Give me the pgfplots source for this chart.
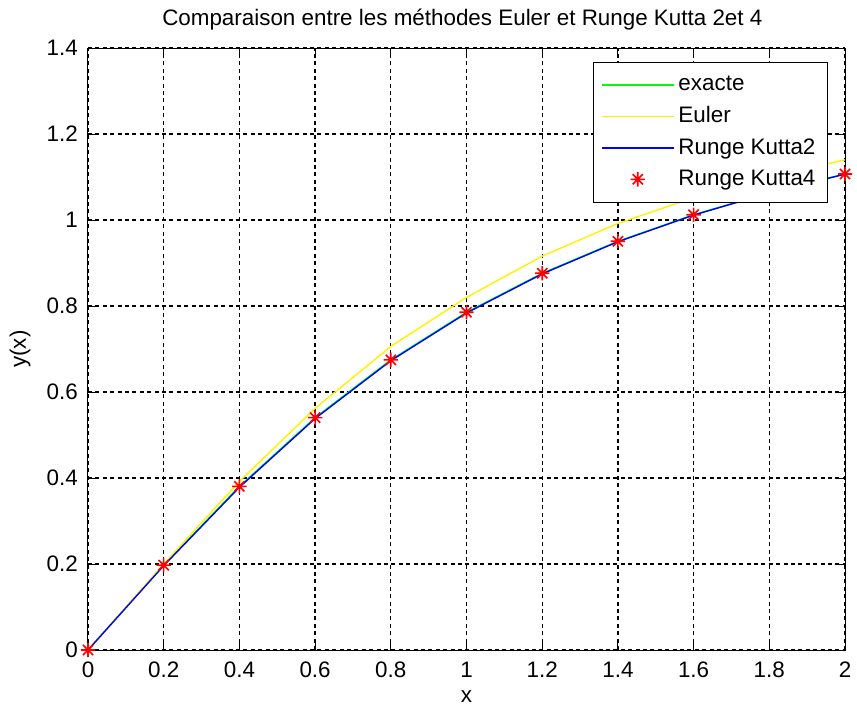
\documentclass[border=0pt]{standalone}
\usepackage{fontspec}
\setmainfont{Liberation Sans}
\usepackage{pgfplots}
\pgfplotsset{compat=1.18}

% MATLAB-like '*' marker: plus and cross together
\pgfdeclareplotmark{mstar}{%
  \pgfpathmoveto{\pgfqpoint{-\pgfplotmarksize}{0pt}}%
  \pgfpathlineto{\pgfqpoint{\pgfplotmarksize}{0pt}}%
  \pgfpathmoveto{\pgfqpoint{0pt}{-\pgfplotmarksize}}%
  \pgfpathlineto{\pgfqpoint{0pt}{\pgfplotmarksize}}%
  \pgfpathmoveto{\pgfqpoint{-0.7071\pgfplotmarksize}{-0.7071\pgfplotmarksize}}%
  \pgfpathlineto{\pgfqpoint{0.7071\pgfplotmarksize}{0.7071\pgfplotmarksize}}%
  \pgfpathmoveto{\pgfqpoint{-0.7071\pgfplotmarksize}{0.7071\pgfplotmarksize}}%
  \pgfpathlineto{\pgfqpoint{0.7071\pgfplotmarksize}{-0.7071\pgfplotmarksize}}%
  \pgfusepathqstroke}

\begin{document}
\begin{tikzpicture}
\path[use as bounding box] (-44pt,-29.5pt) rectangle (384.5pt,325pt);
\begin{axis}[
    scale only axis,
    width=378.5pt, height=301pt,
    xmin=0, xmax=2, ymin=0, ymax=1.4,
    xtick={0,0.2,0.4,0.6,0.8,1,1.2,1.4,1.6,1.8,2},
    ytick={0,0.2,0.4,0.6,0.8,1,1.2,1.4},
    /pgf/number format/assume math mode=true,
    font=\fontsize{11.2}{13.4}\selectfont,
    axis line style={black, line width=0.5pt},
    tick style={black, line width=0.5pt},
    tick align=inside,
    major tick length=4pt,
    grid=major,
    grid style={black, line width=0.6pt, dash pattern=on 2pt off 1.7pt},
    xticklabel style={yshift=-2.4pt},
    yticklabel style={xshift=-1.6pt},
    xlabel={x},
    ylabel={y(x)},
    xlabel style={at={(axis description cs:0.5,-0.0781)}, anchor=center},
    ylabel style={at={(axis description cs:-0.0898,0.5)}, anchor=center},
    title={Comparaison entre les méthodes Euler et Runge Kutta 2et 4},
    title style={at={(axis description cs:0.4945,1.0266)}, anchor=center},
    clip=false,
    legend style={at={(0.9775,0.977)}, anchor=north east, draw=black,
        line width=0.5pt, fill=white, row sep=2.4pt,
        inner xsep=4pt, inner ysep=5pt},
    legend cell align=left,
    legend image code/.code={\draw[mark repeat=2,mark phase=2,#1]
        plot coordinates {(0pt,0pt)(18pt,0pt)(36pt,0pt)};},
]
% exacte
\addplot[green, line width=0.7pt] coordinates {
    (0,0)(0.2,0.1974)(0.4,0.3805)(0.6,0.5404)(0.8,0.6747)(1.0,0.7854)
    (1.2,0.8761)(1.4,0.9505)(1.6,1.0122)(1.8,1.0637)(2.0,1.1071)
};
\addlegendentry{exacte}

% Euler
\addplot[yellow, line width=0.7pt] coordinates {
    (0,0)(0.2,0.2)(0.4,0.392)(0.6,0.562)(0.8,0.706)(1.0,0.820)
    (1.2,0.916)(1.4,0.992)(1.6,1.052)(1.8,1.100)(2.0,1.140)
};
\addlegendentry{Euler}

% Runge Kutta 2
\addplot[blue, line width=0.7pt] coordinates {
    (0,0)(0.2,0.1962)(0.4,0.3785)(0.6,0.5383)(0.8,0.6728)(1.0,0.7837)
    (1.2,0.8747)(1.4,0.9495)(1.6,1.0114)(1.8,1.0630)(2.0,1.1066)
};
\addlegendentry{Runge Kutta2}

% Runge Kutta 4
\addplot[red, only marks, mark=mstar, mark size=3.6pt, line width=0.8pt] coordinates {
    (0,0)(0.2,0.1974)(0.4,0.3805)(0.6,0.5404)(0.8,0.6747)(1.0,0.7854)
    (1.2,0.8761)(1.4,0.9505)(1.6,1.0122)(1.8,1.0637)(2.0,1.1071)
};
\addlegendentry{Runge Kutta4}
\end{axis}
\end{tikzpicture}
\end{document}
